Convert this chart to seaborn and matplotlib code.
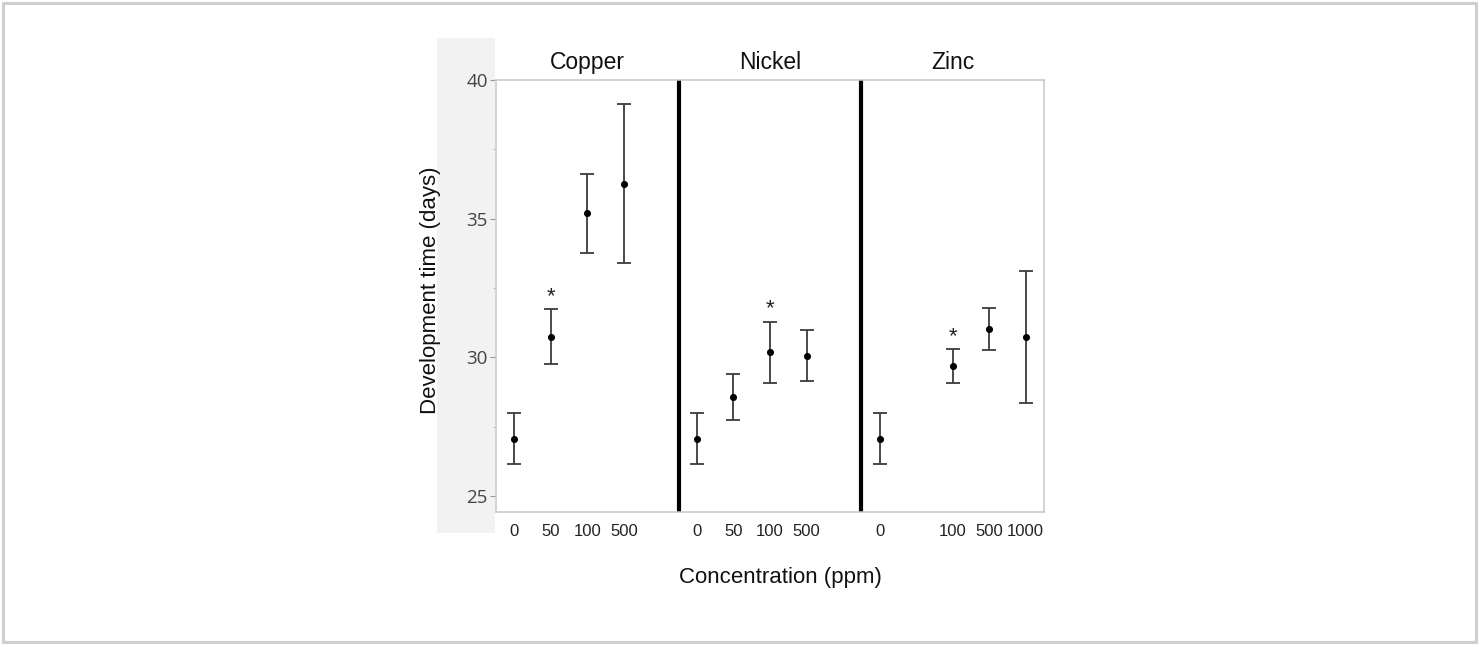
import numpy as np
import pandas as pd
import matplotlib.pyplot as plt
import matplotlib.patches as mpatches
import seaborn as sns

# values
metals = ['Copper', 'Nickel', 'Zinc']
# slot layout of each panel (None = empty slot)
slots = {
    'Copper': ['0', '50', '100', '500', None],
    'Nickel': ['0', '50', '100', '500', None],
    'Zinc':   ['0', None, '100', '500', '1000'],
}
metal = ['Copper'] * 4 + ['Nickel'] * 4 + ['Zinc'] * 4
conc  = ['0', '50', '100', '500', '0', '50', '100', '500', '0', '100', '500', '1000']
mean  = [27.07, 30.74, 35.20, 36.24, 27.07, 28.58, 30.19, 30.05, 27.07, 29.69, 31.01, 30.72]
upper = [27.98, 31.73, 36.60, 39.12, 27.98, 29.40, 31.27, 30.97, 27.98, 30.29, 31.78, 33.12]
lower = [26.14, 29.75, 33.77, 33.40, 26.14, 27.72, 29.09, 29.13, 26.14, 29.06, 30.25, 28.34]
signif = [False, True, False, False, False, False, True, False, False, True, False, False]
star_y = [None, 32.43, None, None, None, None, 32.0, None, None, 31.0, None, None]

df = pd.DataFrame({'metal': metal, 'conc': conc, 'mean': mean,
                   'upper': upper, 'lower': lower})
nslot = 5
df['x'] = [metals.index(m) * nslot + slots[m].index(c) for m, c in zip(df.metal, df.conc)]

fig = plt.figure(figsize=(14.79, 6.45), dpi=100)
sns.set_style('white')
plt.rcParams['font.family'] = ['Liberation Sans', 'DejaVu Sans']

# outer frame of the figure
fig.patches.append(mpatches.Rectangle((3 / 1479, 3 / 645), 1473 / 1479, 639 / 645,
                                      transform=fig.transFigure, fill=False,
                                      edgecolor='#cfcfcf', linewidth=2.2))
# grey backdrop behind y-axis area
fig.patches.append(mpatches.Rectangle((437 / 1479, 112 / 645), 58 / 1479, 495 / 645,
                                      transform=fig.transFigure, facecolor='#f2f2f2',
                                      edgecolor='none', zorder=-1))

ax = fig.add_axes([496 / 1479, 133 / 645, 548 / 1479, 432 / 645])

ax.errorbar(df['x'], df['mean'],
            yerr=[df['mean'] - df['lower'], df['upper'] - df['mean']],
            fmt='none', ecolor='#3c3c3c', elinewidth=1.3, capsize=5, capthick=1.3)
sns.scatterplot(data=df, x='x', y='mean', color='black', s=26,
                edgecolor='black', linewidth=0, ax=ax, zorder=3, legend=False)

# significance stars (glyph sits high in its box, so shift down a little)
for x, y, s in zip(df['x'], star_y, signif):
    if s:
        ax.annotate('*', (x, y), xytext=(0, -5), textcoords='offset points',
                    ha='center', va='center', fontsize=16, color='#222222')

# panel separators
for i in range(1, len(metals)):
    ax.axvline(i * nslot - 0.5, color='black', linewidth=3)

ax.set_xlim(-0.5, len(metals) * nslot - 0.5)
ax.set_ylim(24.42, 40)

ticks, labels = [], []
for i, m in enumerate(metals):
    for j, c in enumerate(slots[m]):
        if c is not None:
            ticks.append(i * nslot + j)
            labels.append(c)
ax.set_xticks(ticks)
ax.set_xticklabels(labels, fontsize=12, color='#222222')
ax.tick_params(axis='x', length=0, pad=9)

ax.set_yticks([25, 30, 35, 40])
ax.set_yticks([27.5, 32.5, 37.5], minor=True)
ax.set_yticklabels(['25', '30', '35', '40'], fontsize=13.5, color='#444444',
                   family=['Open Sans', 'DejaVu Sans'])
ax.tick_params(axis='y', which='major', left=True, length=4, width=0.8,
               color='#999999', pad=2)
ax.tick_params(axis='y', which='minor', left=True, length=2, width=0.8,
               color='#bbbbbb')

for sp in ax.spines.values():
    sp.set_visible(True)
    sp.set_color('#c8c8c8')
    sp.set_linewidth(1.1)

for i, m in enumerate(metals):
    ax.text(i * nslot + 2, 1.04, m, transform=ax.get_xaxis_transform(),
            ha='center', va='center', fontsize=16.5, color='#111111')

ax.set_xlabel('')
ax.set_ylabel('')
fig.text(780 / 1479, 1 - 577 / 645, 'Concentration (ppm)', ha='center', va='center',
         fontsize=16, color='#111111')
fig.text(430 / 1479, 1 - 290 / 645, 'Development time (days)', ha='center', va='center',
         rotation=90, fontsize=16, color='#111111')

plt.savefig('out.png', dpi=100)
plt.close('all')
